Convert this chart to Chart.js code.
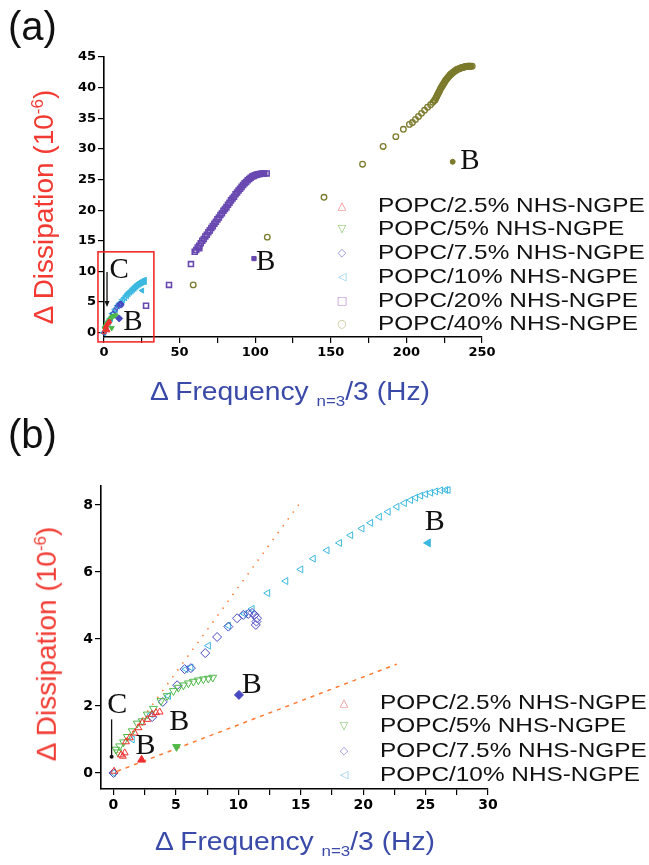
<!DOCTYPE html>
<html lang="en">
<head>
<meta charset="UTF-8">
<title>Dissipation vs Frequency</title>
<script src="https://cdn.jsdelivr.net/npm/chart.js@4/dist/chart.umd.min.js"></script>
<style>
  body { margin: 0; background: #fff; font-family: "Liberation Sans", Arial, sans-serif; }
  #page { position: relative; width: 649px; height: 865px; overflow: hidden; }
  canvas { position: absolute; left: 0; }
  .txt { position: absolute; white-space: nowrap; }
  .panel { font-size: 40px; color: #111; }
  .ytitle { color: #f23a32; font-size: 28px; transform: translate(-50%, -50%) rotate(-90deg); }
  .ytitle sup { font-size: 17px; }
  .xtitle { color: #3a4aa8; font-size: 25px; transform: translate(-50%, -50%) scaleX(1.13); }
  .xtitle sub { font-size: 15px; vertical-align: -6px; }
  .leg { position: absolute; white-space: nowrap; font-size: 21px; color: #111; transform: translateY(-50%) scaleX(1.16); transform-origin: left center; }
  .mk { position: absolute; font-family: "DejaVu Sans", sans-serif; font-size: 11px; transform: translate(-50%, -50%); }
</style>
</head>
<body>
<div id="page">
  <canvas id="chartA" width="649" height="400" style="top:0"></canvas>
  <canvas id="chartB" width="649" height="465" style="top:400px"></canvas>

  <div class="txt panel" style="left:8px; top:4px;">(a)</div>
  <div class="txt panel" style="left:8px; top:412px;">(b)</div>

  <div class="txt ytitle" style="left:44px; top:207px;">&Delta; Dissipation (10<sup>-6</sup>)</div>
  <div class="txt xtitle" style="left:290px; top:393px;">&Delta; Frequency <sub>n=3</sub>/3 (Hz)</div>
  <div class="txt ytitle" style="left:47px; top:644px;">&Delta; Dissipation (10<sup>-6</sup>)</div>
  <div class="txt xtitle" style="left:295px; top:843px;">&Delta; Frequency <sub>n=3</sub>/3 (Hz)</div>
  <div id="legends"></div>
</div>

<script>
// ---- data (x = delta frequency / 3 in Hz, y = delta dissipation in 1e-6) ----
const seriesNames = ['POPC/2.5% NHS-NGPE', 'POPC/5% NHS-NGPE', 'POPC/7.5% NHS-NGPE',
                     'POPC/10% NHS-NGPE', 'POPC/20% NHS-NGPE', 'POPC/40% NHS-NGPE'];

const popc25 = [[0.05,0.05],[0.6,0.54],[0.75,0.5],[0.9,0.6],[1.0,0.93],[1.3,1.05],[1.7,1.19],
  [2.0,1.35],[2.3,1.5],[2.7,1.6],[3.1,1.75],[3.4,1.8],[3.7,1.82]];
const popc5 = [[0.2,0.7],[0.35,0.62],[0.5,0.8],[0.8,0.92],[1.1,1.08],[1.5,1.25],[1.9,1.48],
  [2.3,1.55],[2.7,1.75],[3.2,1.92],[3.8,2.15],[4.3,2.3],[4.8,2.45],[5.2,2.55],[5.6,2.62],
  [6.0,2.68],[6.4,2.73],[6.8,2.77],[7.2,2.8],[7.6,2.82],[7.95,2.85]];
const popc75 = [[0,0],[3.1,1.67],[3.95,2.12],[5.1,2.62],[5.7,3.1],[6.2,3.13],[7.35,3.58],
  [8.3,4.06],[9.2,4.37],[9.9,4.62],[10.4,4.72],[10.8,4.75],[11.1,4.78],[11.3,4.72],
  [11.5,4.62],[11.45,4.52],[11.4,4.42]];
const popc10 = [[0,0],[1.5,1.0],[3.0,1.75],[4.4,2.3],[5.8,3.1],[6.2,3.15],[7.6,3.8],[9.2,4.4],
  [10.5,4.75],[11.1,4.9],[12.35,5.37],[13.8,5.73],[15,6.08],[16,6.4],[17.1,6.65],[18.1,6.87],
  [19,7.1],[19.9,7.3],[20.6,7.47],[21.3,7.65],[22,7.8],[22.7,7.95],[23.3,8.06],[23.8,8.15],
  [24.2,8.22],[24.6,8.28],[25,8.33],[25.4,8.37],[25.8,8.41],[26.2,8.44],[26.6,8.45],[26.8,8.45]];
const popc20 = [[27.8,4.4],[43,7.8],[57.5,11.2],[63,13.8],
  [60,13.2],[61,13.5],[62,13.9],[63,14.2],[64,14.6],[65,15.0],[66,15.3],[67,15.7],[68,16.0],
  [69,16.4],[70,16.7],[71,17.1],[72,17.4],[73,17.8],[74,18.1],[75,18.5],[76,18.8],[77,19.2],
  [78,19.5],[79,19.9],[80,20.2],[81,20.5],[82,20.9],[83,21.2],[84,21.6],[85,21.9],[86,22.2],
  [87,22.6],[88,22.9],[89,23.2],[90,23.5],[91,23.8],[92,24.1],[93,24.4],[94,24.6],[95,24.9],
  [96,25.1],[97,25.3],[98,25.5],[99,25.6],[100,25.7],[101,25.8],[102,25.85],[103,25.9],
  [104,25.95],[105,26.0],[106,26.0],[107.6,26.0]];
const popc40 = [[59,7.8],[108,15.6],[145.5,22.1],[171,27.5],[184.6,30.4],[193,32],[198,33.2],
  [202,34],[204,34.3],[206,34.8],[208,35.3],[210,35.8],[212,36.3],[214,36.8],[216,37.2],
  [217.5,37.6],[218.5,37.9],[219,38],[219.5,38.3],[220,38.5],[220.5,38.8],[221,39],[221.5,39.3],
  [222,39.5],[222.5,39.8],[223,40],[223.5,40.2],[224,40.4],[224.5,40.6],[225,40.8],[225.5,41],
  [226,41.2],[226.5,41.35],[227,41.5],[227.5,41.65],[228,41.8],[228.5,41.95],[229,42.1],
  [229.5,42.2],[230,42.3],[230.5,42.4],[231,42.5],[231.5,42.6],[232,42.7],[232.5,42.8],
  [233,42.85],[233.5,42.95],[234,43.0],[234.5,43.05],[235,43.1],[235.5,43.15],[236,43.2],
  [236.5,43.25],[237,43.3],[237.5,43.3],[238,43.35],[238.5,43.4],[239,43.4],[239.5,43.45],
  [240,43.45],[240.5,43.5],[241,43.5],[241.5,43.5],[242,43.5],[242.5,43.5],[243.5,43.5]];

// points marked "B"
const popc25B = [[2.25,0.39]];
const popc5B = [[5.05,0.78]];
const popc75B = [[10.05,2.33]];
const popc10B = [[25.2,6.87]];
const popc20B = [[99.2,12.1]];
const popc40B = [[230.6,27.9]];

// guide lines in panel (b)
const steepLine = [[0.3,0.6],[15.1,8.15]];
const shallowLine = [[0.3,0.05],[22.7,3.25]];

// axis ticks
const xTicksA = [0,25,50,75,100,125,150,175,200,225,250];
const xLabelsA = [0,50,100,150,200,250];
const yTicksA = [0,5,10,15,20,25,30,35,40,45];
const xTicksB = [0,2.5,5,7.5,10,12.5,15,17.5,20,22.5,25,27.5,30];
const xLabelsB = [0,5,10,15,20,25,30];
const yTicksB = [0,2,4,6,8];

// ---- styling ----
const colors = ['#f03030', '#4fb848', '#4848c0', '#3cb8e0', '#6848b0', '#7c7a2c'];
const legendColors = ['#f07878', '#88c870', '#8a88d8', '#80c8e8', '#b080d0', '#c4c48c'];
const shapes = ['triangle', 'triangle', 'rectRot', 'triangle', 'rect', 'circle'];
const rotations = [0, 180, 0, 270, 0, 0];
const legendGlyphs = ['\u25B3', '\u25BD', '\u25C7', '\u25C1', '\u25A1', '\u25CB'];
const orange = '#ff7a30';

const toXY = arr => arr.map(p => ({ x: p[0], y: p[1] }));

function openSet(i, data, r, bw) {
  return { label: seriesNames[i], data: toXY(data), pointStyle: shapes[i], pointRotation: rotations[i],
    pointRadius: r, pointBorderWidth: bw || 1, borderColor: colors[i], backgroundColor: 'rgba(0,0,0,0)',
    showLine: false, clip: false, order: 2 };
}
function filledSet(i, data, r) {
  return { label: seriesNames[i] + ' B', data: toXY(data), pointStyle: shapes[i], pointRotation: rotations[i],
    pointRadius: r, pointBorderWidth: 1, borderColor: colors[i], backgroundColor: colors[i],
    showLine: false, clip: false, order: 1 };
}
function guide(data, dash) {
  return { label: 'guide', data: toXY(data), showLine: true, pointRadius: 0, borderColor: orange,
    borderWidth: 1.5, borderDash: dash, clip: false, order: 5 };
}

// annotations: text labels, arrows, box (in data units)
const annotate = {
  id: 'annotate',
  afterDatasetsDraw(chart, args, opts) {
    const { ctx } = chart;
    const sx = chart.scales.x, sy = chart.scales.y;
    const px = v => sx.getPixelForValue(v), py = v => sy.getPixelForValue(v);
    ctx.save();
    if (opts.box) {
      const b = opts.box;
      ctx.strokeStyle = '#f02020'; ctx.lineWidth = 1.5;
      ctx.strokeRect(px(b[0]), py(b[3]), px(b[2]) - px(b[0]), py(b[1]) - py(b[3]));
    }
    if (opts.arrow) {
      const a = opts.arrow, x0 = px(a[0][0]), y0 = py(a[0][1]), x1 = px(a[1][0]), y1 = py(a[1][1]);
      ctx.strokeStyle = '#111'; ctx.fillStyle = '#111'; ctx.lineWidth = 1.3;
      ctx.beginPath(); ctx.moveTo(x0, y0); ctx.lineTo(x1, y1 - 4); ctx.stroke();
      ctx.beginPath(); ctx.moveTo(x1, y1); ctx.lineTo(x1 - 2.5, y1 - 6); ctx.lineTo(x1 + 2.5, y1 - 6); ctx.closePath(); ctx.fill();
    }
    if (opts.stem) {
      const s = opts.stem, x = px(s[0]);
      ctx.strokeStyle = '#111'; ctx.fillStyle = '#111'; ctx.lineWidth = 1.3;
      ctx.beginPath(); ctx.moveTo(x, py(s[2])); ctx.lineTo(x, py(s[1])); ctx.stroke();
      ctx.beginPath(); ctx.arc(x, py(s[1]), 2, 0, Math.PI * 2); ctx.fill();
    }
    ctx.fillStyle = '#111';
    ctx.font = (opts.fontSize || 28) + 'px "Liberation Serif", "Times New Roman", serif';
    ctx.textAlign = 'center'; ctx.textBaseline = 'middle';
    (opts.labels || []).forEach(l => ctx.fillText(l[0], px(l[1]), py(l[2])));
    ctx.restore();
  }
};

function axis(min, max, ticks, labels, fontSize, fit) {
  return {
    type: 'linear', min: min, max: max,
    afterBuildTicks: s => { s.ticks = ticks.map(v => ({ value: v })); },
    afterFit: fit,
    ticks: { color: '#000', font: { family: 'DejaVu Sans', weight: 'bold', size: fontSize }, padding: 2,
      autoSkip: false, maxRotation: 0, callback: v => (labels.includes(v) ? String(v) : '') },
    grid: { drawOnChartArea: false, drawTicks: true, tickLength: 6, color: '#000', lineWidth: 1.2 },
    border: { display: true, color: '#000', width: 1.6 }
  };
}

function makeChart(id, datasets, x, y, pad, annot) {
  return new Chart(document.getElementById(id), {
    type: 'scatter',
    data: { datasets: datasets },
    plugins: [annotate],
    options: {
      responsive: false, animation: false, devicePixelRatio: 1,
      layout: { padding: pad },
      plugins: { legend: { display: false }, tooltip: { enabled: false }, annotate: annot },
      scales: { x: x, y: y }
    }
  });
}

// panel (a)
makeChart('chartA', [
  openSet(0, popc25, 2.5), openSet(1, popc5, 2.5), openSet(2, popc75, 2.5), openSet(3, popc10, 3, 1.5),
  openSet(4, popc20, 3.5, 1.6), openSet(5, popc40, 2.8, 1.3),
  filledSet(0, popc25B, 3), filledSet(1, popc5B, 3), filledSet(2, popc75B, 3.5), filledSet(3, popc10B, 3),
  filledSet(4, popc20B, 3), filledSet(5, popc40B, 2.5)
],
  axis(0, 250, xTicksA, xLabelsA, 13, s => { s.height = 63; }),
  axis(-0.7, 45, yTicksA, yTicksA, 13, s => { s.width = 104; }),
  { top: 57, right: 167, left: 0, bottom: 0 },
  { box: [-4, -1.5, 33, 13.2], arrow: [[2, 9.9], [2, 4.2]], fontSize: 29,
    labels: [['C', 10, 10.2], ['B', 19.2, 1.75], ['B', 107, 11.5], ['B', 242, 28]] });

// panel (b)
makeChart('chartB', [
  guide(steepLine, [1.5, 7]), guide(shallowLine, [4, 5]),
  openSet(0, popc25, 4), openSet(1, popc5, 4.5), openSet(2, popc75, 4.5), openSet(3, popc10, 4),
  filledSet(0, popc25B, 4.5), filledSet(1, popc5B, 4.5), filledSet(2, popc75B, 4.5), filledSet(3, popc10B, 4.5)
],
  axis(-1, 30, xTicksB, xLabelsB, 14, s => { s.height = 76; }),
  axis(-0.48, 8.57, yTicksB, yTicksB, 14, s => { s.width = 101; }),
  { top: 86, right: 161, left: 0, bottom: 0 },
  { stem: [-0.15, 0.48, 1.6], fontSize: 30,
    labels: [['C', 0.3, 2.03], ['B', 2.57, 0.81], ['B', 5.26, 1.53], ['B', 11.07, 2.63], ['B', 25.74, 7.5]] });

// HTML legends
const legendBox = document.getElementById('legends');
function addLegend(count, rows, markX, textX) {
  for (let i = 0; i < count; i++) {
    const m = document.createElement('div');
    m.className = 'mk'; m.style.left = markX + 'px'; m.style.top = rows[i] + 'px';
    m.style.color = legendColors[i]; m.textContent = legendGlyphs[i];
    legendBox.appendChild(m);
    const t = document.createElement('div');
    t.className = 'leg'; t.style.left = textX + 'px'; t.style.top = rows[i] + 'px';
    t.textContent = seriesNames[i];
    legendBox.appendChild(t);
  }
}
addLegend(6, [205, 228, 252, 276, 300, 323], 342, 378);
addLegend(4, [702, 725, 750, 774], 344, 380);
</script>
</body>
</html>
